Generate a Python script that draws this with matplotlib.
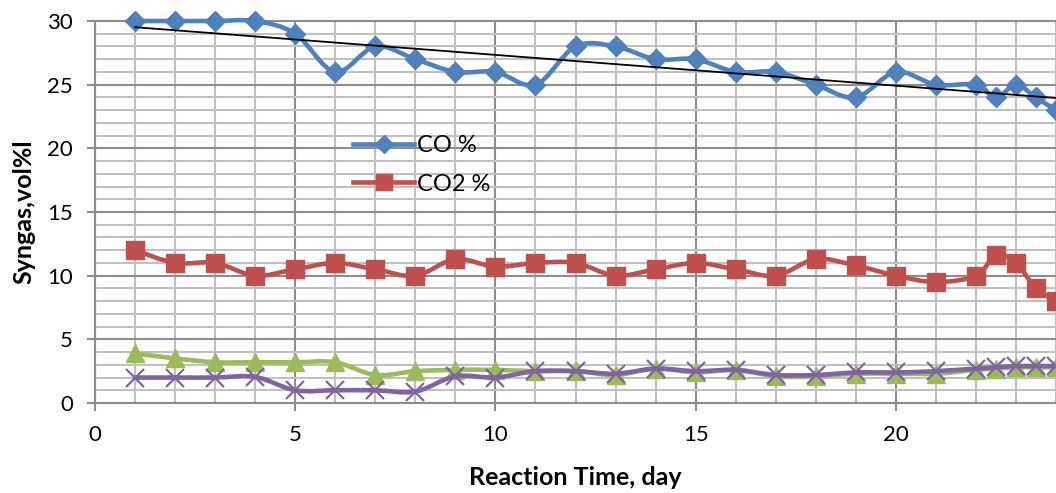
import numpy as np
import matplotlib
matplotlib.use("Agg")
import matplotlib.pyplot as plt
from matplotlib.path import Path
from matplotlib.patches import PathPatch
from matplotlib.lines import Line2D
from matplotlib.ticker import MultipleLocator

plt.rcParams['font.family'] = ['Lato', 'DejaVu Sans']

# ---- data ----
days = [1, 2, 3, 4, 5, 6, 7, 8, 9, 10, 11, 12, 13, 14, 15, 16, 17, 18, 19, 20, 21, 22, 22.5, 23, 23.5, 24]
co = [30, 30, 30, 30, 29, 26, 28, 27, 26, 26, 25, 28, 28, 27, 27, 26, 26, 25, 24, 26, 25, 25, 24, 25, 24, 23]
co2 = [12, 11, 11, 10, 10.5, 11, 10.5, 10, 11.3, 10.7, 11, 11, 10, 10.5, 11, 10.5, 10, 11.3, 10.8, 10, 9.5, 10, 11.6, 11, 9, 8]
h2 = [3.9, 3.5, 3.2, 3.2, 3.2, 3.2, 2.2, 2.5, 2.6, 2.6, 2.5, 2.5, 2.2, 2.7, 2.4, 2.6, 2.1, 2.1, 2.3, 2.3, 2.3, 2.6, 2.7, 2.8, 2.8, 2.8]
ch4 = [2, 2, 2, 2.05, 1, 1, 1, 0.9, 2.1, 2.0, 2.5, 2.5, 2.3, 2.7, 2.5, 2.6, 2.2, 2.2, 2.4, 2.4, 2.5, 2.7, 2.8, 2.9, 2.9, 2.9]
series_names = ['CO %', 'CO2 %', 'H2 %', 'CH4 %']
xticks = [0, 5, 10, 15, 20]
yticks = [0, 5, 10, 15, 20, 25, 30]

BLUE = '#4F81BD'
RED = '#C0504D'
GREEN = '#9BBB59'
PURPLE = '#8064A2'


def smooth_path(x, y):
    x = np.asarray(x, float)
    y = np.asarray(y, float)
    pts = np.column_stack([x, y])
    n = len(pts)
    verts = [pts[0]]
    codes = [Path.MOVETO]
    for i in range(n - 1):
        p0 = pts[i - 1] if i > 0 else pts[i]
        p1 = pts[i]
        p2 = pts[i + 1]
        p3 = pts[i + 2] if i + 2 < n else pts[i + 1]
        c1 = p1 + (p2 - p0) / 6.0
        c2 = p2 - (p3 - p1) / 6.0
        verts += [c1, c2, p2]
        codes += [Path.CURVE4] * 3
    return Path(verts, codes)


fig = plt.figure(figsize=(10.56, 4.93), dpi=100)
ax = fig.add_axes([95 / 1056, 1 - 403 / 493, 1 - 95 / 1056, (403 - 21) / 493])

ax.set_xlim(0, 24)
ax.set_ylim(0, 30)

# grid
ax.xaxis.set_major_locator(MultipleLocator(5))
ax.xaxis.set_minor_locator(MultipleLocator(1))
ax.yaxis.set_major_locator(MultipleLocator(5))
ax.yaxis.set_minor_locator(MultipleLocator(1))
ax.grid(which='minor', color='#C0C0C0', lw=1.5, zorder=0)
ax.grid(which='major', color='#8C8C8C', lw=1.5, zorder=0)
ax.set_axisbelow(True)

ax.tick_params(axis='both', which='minor', length=0)
ax.tick_params(axis='both', which='major', length=6, width=1.5, color='#8C8C8C',
               labelsize=16, pad=10)
ax.set_xticks(xticks)
ax.set_yticks(yticks)

ax.spines['right'].set_visible(False)
for s in ['left', 'bottom', 'top']:
    ax.spines[s].set_color('#8C8C8C')
    ax.spines[s].set_linewidth(1.5)

styles = [
    (co, BLUE, 'D', 10, dict()),
    (co2, RED, 's', 13, dict()),
    (h2, GREEN, '^', 13, dict()),
    (ch4, PURPLE, 'x', 13, dict(mew=1.6)),
]
z = 3
for vals, col, mk, ms, extra in styles:
    ax.add_patch(PathPatch(smooth_path(days, vals), fc='none', ec=col, lw=3.3,
                           zorder=z, capstyle='round', joinstyle='round',
                           clip_on=False))
    if mk == 'x':
        ax.plot(days, vals, ls='none', marker=mk, ms=ms, color=col,
                zorder=z + 0.5, clip_on=False, **extra)
    else:
        ax.plot(days, vals, ls='none', marker=mk, ms=ms, color=col, mec=col,
                zorder=z + 0.5, clip_on=False, **extra)
    z += 1

# linear trendline for CO
coef = np.polyfit(days, co, 1)
tx = np.array([days[0], days[-1]])
ax.plot(tx, np.polyval(coef, tx), color='black', lw=1.3, zorder=10)

ax.set_xlabel('Reaction Time, day', fontsize=18, fontweight='bold', labelpad=15)
ax.set_ylabel('Syngas,vol%l', fontsize=18, fontweight='bold', labelpad=8)

handles = [
    Line2D([], [], color=BLUE, lw=3.3, marker='D', ms=9),
    Line2D([], [], color=RED, lw=3.3, marker='s', ms=12),
]
fig.legend(handles, series_names[:2], loc='upper left',
           bbox_to_anchor=(353 / 1056, 1 - 135 / 493), frameon=False,
           fontsize=17, handlelength=2.6, handletextpad=0.1, borderpad=0,
           borderaxespad=0, labelspacing=0.75)

fig.savefig('out.png', dpi=100)
